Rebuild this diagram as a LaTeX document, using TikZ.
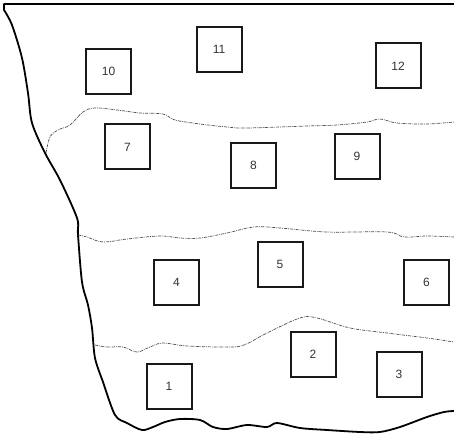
\documentclass[tikz,border=0pt]{standalone}
\usepackage{fontspec}
\setmainfont{Liberation Sans}
\begin{document}
\begin{tikzpicture}[x=1pt,y=-1pt,
  plot/.style={draw=black!90, line width=2pt, minimum size=45pt, inner sep=0pt, font=\fontsize{12}{12}\selectfont, text=black!80},
  edge/.style={line width=1.8pt, line join=round, line cap=round},
  zone/.style={draw=black!70, line width=0.7pt, dash pattern=on 3pt off 1pt on 0.8pt off 1pt}]
\useasboundingbox (0,0) rectangle (454,435);
% outer boundary
\draw[edge] (454,4) -- (4,4) -- (4,10) plot[smooth, tension=0.5] coordinates {(4,10) (12,25) (22,58) (28,93) (32,123) (45,153) (60,180) (77,218) (78,235) (82,282) (88,305) (92,328) (95,358) (103,382) (115,415) (127,423) (142,430) (153,427) (165,422) (180,419) (200,420) (213,427) (227,429) (247,425) (267,427) (277,423) (300,428) (327,430) (360,432) (380,432) (400,427) (427,417) (444,412) (454,411)};
% zone lines
\draw[zone] plot[smooth, tension=0.6] coordinates {(46,153) (50,137) (58,130) (70,125) (83,112) (95,108) (117,110) (140,113) (163,114) (175,120) (200,124) (227,127) (247,128) (307,126) (337,125) (367,122) (380,119) (397,123) (427,124) (454,122)};
\draw[zone] plot[smooth, tension=0.6] coordinates {(78,235) (87,237) (103,242) (127,239) (160,236) (180,238) (200,238) (227,233) (254,227) (280,228) (327,232) (387,232) (404,237) (427,236) (454,237)};
\draw[zone] plot[smooth, tension=0.6] coordinates {(95,345) (107,347) (123,347) (137,352) (150,347) (163,343) (187,346) (227,347) (244,345) (267,333) (300,318) (317,318) (350,328) (387,333) (427,338) (454,342)};
% plots
\node[plot] (p10) at (108.5,71.5) {10};
\node[plot] (p11) at (219,49.5) {11};
\node[plot] (p12) at (398,66) {12};
\node[plot] (p7) at (127.5,147) {7};
\node[plot] (p8) at (253.5,165.5) {8};
\node[plot] (p9) at (357,156.5) {9};
\node[plot] (p4) at (176.5,282.5) {4};
\node[plot] (p5) at (280,264.5) {5};
\node[plot] (p6) at (426.5,282.5) {6};
\node[plot] (p1) at (169,386) {1};
\node[plot] (p2) at (313,354) {2};
\node[plot] (p3) at (399,374) {3};
\end{tikzpicture}
\end{document}
